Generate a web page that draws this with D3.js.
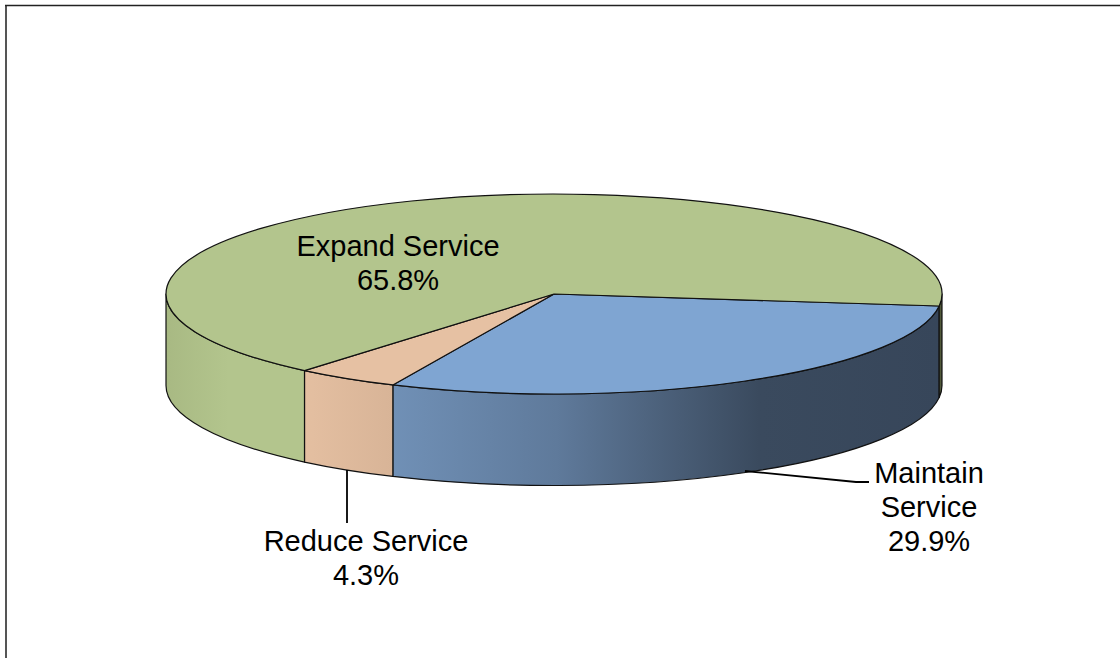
<!DOCTYPE html>
<html><head><meta charset="utf-8">
<script src="https://cdn.jsdelivr.net/npm/d3@7/dist/d3.min.js"></script>
<style>html,body{margin:0;padding:0;background:#fff;overflow:hidden}svg{display:block}text{font-family:"Liberation Sans",Arial,sans-serif;font-size:29px;fill:#000;text-anchor:middle}</style>
</head><body><svg id="c" width="1120" height="658"></svg>
<script>
const categories = ["Maintain Service", "Reduce Service", "Expand Service"];
const shares = [29.9, 4.3, 65.8];
const topColors = ["#7fa5d2", "#e6c1a3", "#b3c58d"];
const sideStops = [
  [[0, "#7090b6"], [0.3, "#5f7a9b"], [0.49, "#4c617b"], [0.67, "#3a4a5e"], [1, "#37465a"]],
  [[0, "#e4bfa1"], [1, "#d8b497"]],
  [[0, "#a8b983"], [0.08, "#b3c58d"], [0.97, "#b3c58d"], [0.995, "#5a6340"], [1, "#4b5336"]]
];
const categoryLines = [["Maintain", "Service"], ["Reduce Service"], ["Expand Service"]];
const labelAnchors = [[929, 483], [366, 551], [398, 256]];
const lineGap = 34;
const leaders = [[[745, 471], [856, 482], [869, 482]], [[347, 470], [347, 523]], []];

const cx = 554, cy = 294, rx = 388, ry = 100, depth = 91.5;
const svg = d3.select("#c");
const defs = svg.append("defs");

// Frame (left and top edges only)
svg.append("path").attr("d", "M6,658V5").attr("fill", "none").attr("stroke", "#555").attr("stroke-width", 2);
svg.append("path").attr("d", "M5,5.5H1120").attr("fill", "none").attr("stroke", "#222").attr("stroke-width", 1.3);

const startDeg = 96.9;
const pie = d3.pie().sort(null).startAngle(startDeg * Math.PI / 180).endAngle((startDeg + 360) * Math.PI / 180);
const arcs = pie(shares);
const arcGen = d3.arc().innerRadius(0).outerRadius(rx);
const px = a => cx + rx * Math.sin(a), py = a => cy - ry * Math.cos(a);

// Side walls (only the front half of the rim is visible)
arcs.forEach((d, i) => {
  const ranges = [];
  [0, -2 * Math.PI].forEach(off => {
    const a0 = Math.max(d.startAngle + off, Math.PI / 2), a1 = Math.min(d.endAngle + off, 1.5 * Math.PI);
    if (a1 > a0) ranges.push([a0, a1]);
  });
  ranges.forEach(([a0, a1], j) => {
    const id = `side${i}-${j}`;
    const full = i === 2;
    const g = defs.append("linearGradient").attr("id", id).attr("gradientUnits", "userSpaceOnUse")
      .attr("x1", full ? cx - rx : Math.min(px(a0), px(a1)))
      .attr("x2", full ? cx + rx : Math.max(px(a0), px(a1))).attr("y1", 0).attr("y2", 0);
    sideStops[i].forEach(s => g.append("stop").attr("offset", s[0]).attr("stop-color", s[1]));
    const p = `M${px(a0)},${py(a0)}A${rx},${ry} 0 0 1 ${px(a1)},${py(a1)}L${px(a1)},${py(a1) + depth}A${rx},${ry} 0 0 0 ${px(a0)},${py(a0) + depth}Z`;
    svg.append("path").attr("d", p).attr("fill", `url(#${id})`).attr("stroke", "#111").attr("stroke-width", 1.2).attr("stroke-linejoin", "round");
  });
});

// Top faces
const topFace = svg.append("g").attr("transform", `translate(${cx},${cy}) scale(1,${ry / rx})`);
topFace.selectAll("path").data(arcs).join("path")
  .attr("d", arcGen)
  .attr("fill", (d, i) => topColors[i])
  .attr("stroke", "#111").attr("stroke-width", 1.2)
  .attr("vector-effect", "non-scaling-stroke").attr("stroke-linejoin", "round");

// Leaders
const lineGen = d3.line();
leaders.filter(l => l.length).forEach(l => svg.append("path").attr("d", lineGen(l)).attr("fill", "none").attr("stroke", "#000").attr("stroke-width", 1.8));

// Labels
categories.forEach((c, i) => {
  const t = svg.append("text").attr("data-cat", c);
  categoryLines[i].concat(shares[i].toFixed(1) + "%").forEach((s, k) =>
    t.append("tspan").attr("x", labelAnchors[i][0]).attr("y", labelAnchors[i][1] + k * lineGap).text(s));
});
</script></body></html>
